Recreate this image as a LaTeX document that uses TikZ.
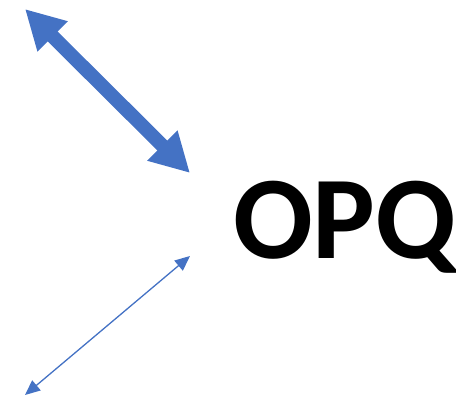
\documentclass[tikz,border=0pt]{standalone}
\usepackage{fontspec}
\setmainfont{Carlito}
\usetikzlibrary{arrows.meta}
\definecolor{offblue}{HTML}{4472C4}
\tikzset{
  thickarrow/.style={draw=offblue, line width=14pt, {Triangle[length=39pt,width=40pt]}-{Triangle[length=39pt,width=40pt]}},
  thinarrow/.style={draw=offblue, line width=1.3pt, {Triangle[length=15pt,width=13pt]}-{Triangle[length=15pt,width=13pt]}},
  bigtext/.style={inner sep=0pt, anchor=base west, font=\fontsize{118}{118}\selectfont\bfseries}
}
\begin{document}
\begin{tikzpicture}[x=1pt,y=-1pt]
\useasboundingbox (0,0) rectangle (456,398);
\coordinate (a1) at (25,9);
\coordinate (a2) at (190,173);
\coordinate (b1) at (190,256);
\coordinate (b2) at (25,395);
\draw[thickarrow] (a1) -- (a2);
\draw[thinarrow] (b1) -- (b2);
\node[bigtext] (t) at (233,259) {OPQ};
\end{tikzpicture}
\end{document}
